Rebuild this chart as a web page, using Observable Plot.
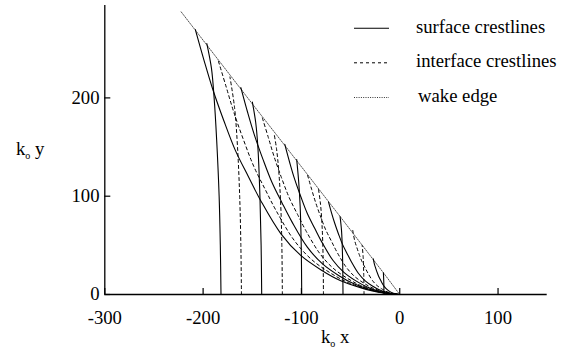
<!DOCTYPE html>
<html><head><meta charset="utf-8">
<script src="https://cdn.jsdelivr.net/npm/d3@7"></script>
<script src="https://cdn.jsdelivr.net/npm/@observablehq/plot@0.6"></script>
<style>
html,body{margin:0;padding:0;background:#fff;}
#chart{position:relative;width:565px;height:349px;}
</style></head><body><div id="chart"></div>
<script>
const xTicks = [-300, -200, -100, 0, 100];
const yTicks = [0, 100, 200];
const xDomain = [-300, 150];
const yDomain = [0, 294];
const legendLabels = ["surface crestlines", "interface crestlines", "wake edge"];
const xLabel = ["k", "o", " x"];
const yLabel = ["k", "o", " y"];

// surface crestlines: transverse part (axis -> edge) and divergent part (edge -> origin)
const surfaceTransverse = [
  [[-181.8,0],[-182.5,50],[-183.7,100],[-186.2,157],[-188.8,200],[-191.5,230],[-196.2,255.3]],
  [[-140.4,0],[-141,50],[-142.2,100],[-144.3,150],[-146.5,175],[-149.9,195.8]],
  [[-99.7,0],[-100.2,50],[-101.3,90],[-102.8,115],[-104.8,137.2]],
  [[-57.7,0],[-58.2,40],[-59.2,65],[-60.7,79.4]],
  [[-16,0],[-16.2,12],[-16.6,22]]
];
const surfaceDivergent = [
  [[-207.9,269.5],[-199,238],[-190.2,208.8],[-179,177],[-167.2,146.6],[-154,120],[-141.5,95.7],[-121,62],[-101,40],[-80,25],[-60,14],[-40,7],[-20,2],[0,0]],
  [[-161.6,210.5],[-154.6,184.9],[-147.8,162.2],[-139.1,137.5],[-129.9,113.9],[-119.7,93.2],[-109.9,74.4],[-94,48.2],[-78.5,31.1],[-62.2,19.4],[-46.6,10.9],[-31.1,5.4],[-15.5,1.6],[0,0]],
  [[-116.9,152.7],[-111.8,133.8],[-106.9,117.3],[-100.6,99.5],[-94,82.4],[-86.5,67.4],[-79.5,53.8],[-68,34.8],[-56.8,22.5],[-45,14.1],[-33.7,7.9],[-22.5,3.9],[-11.2,1.1],[0,0]],
  [[-72.4,94],[-69.3,82.8],[-66.2,72.7],[-62.3,61.6],[-58.2,51],[-53.6,41.8],[-49.2,33.3],[-42.1,21.6],[-35.1,13.9],[-27.8,8.7],[-20.9,4.9],[-13.9,2.4],[-7,0.7],[0,0]],
  [[-26.9,36.3],[-25.7,30.7],[-24.5,26.9],[-23.1,22.8],[-21.6,18.9],[-19.9,15.5],[-18.3,12.3],[-15.6,8],[-13,5.2],[-10.3,3.2],[-7.7,1.8],[-5.2,0.9],[-2.6,0.3],[0,0]]
];
// interface crestlines
const interfaceTransverse = [
  [[-161,0],[-161.6,50],[-162.8,100],[-165,150],[-168,190],[-172.7,221.3]],
  [[-119.4,0],[-119.9,50],[-121,90],[-123,125],[-125.3,148],[-127.9,164.3]],
  [[-77.6,0],[-78,40],[-79,70],[-80.6,92],[-82.7,107.6]],
  [[-36.3,0],[-36.6,20],[-37.2,38],[-38.2,50]]
];
const interfaceDivergent = [
  [[-184.4,237.3],[-176.5,211.1],[-168.7,185.2],[-158.8,157],[-148.3,130],[-136.6,106.4],[-125.5,84.9],[-107.3,55],[-89.6,35.5],[-71,22.2],[-53.2,12.4],[-35.5,6.2],[-17.7,1.8],[0,0]],
  [[-139.7,179.5],[-133.7,159.9],[-127.8,140.3],[-120.3,118.9],[-112.4,98.5],[-103.5,80.6],[-95.1,64.3],[-81.3,41.7],[-67.9,26.9],[-53.8,16.8],[-40.3,9.4],[-26.9,4.7],[-13.4,1.3],[0,0]],
  [[-93.7,121.2],[-89.7,107.3],[-85.7,94.1],[-80.7,79.8],[-75.4,66.1],[-69.4,54.1],[-63.8,43.1],[-54.5,27.9],[-45.5,18],[-36.1,11.3],[-27,6.3],[-18,3.2],[-9,0.9],[0,0]],
  [[-47.8,65.2],[-45.8,54.7],[-43.7,48],[-41.2,40.7],[-38.5,33.7],[-35.4,27.6],[-32.5,22],[-27.8,14.3],[-23.2,9.2],[-18.4,5.8],[-13.8,3.2],[-9.2,1.6],[-4.6,0.5],[0,0]]
];
// wake edge
const wakeEdge = [[-222.3,287.5],[-150,194],[-100,130],[-60,78.5],[-30,39.5],[-15,20],[0,0]];

function buildRows(trans, div, prefix) {
  const rows = [];
  trans.forEach((t, i) => t.forEach(([x, y]) => rows.push({x, y, z: `${prefix}${i}t`})));
  div.forEach((d, i) => d.forEach(([x, y]) => rows.push({x, y, z: `${prefix}${i}d`})));
  return rows;
}
const surfaceRows = buildRows(surfaceTransverse, surfaceDivergent, "s");
const interfaceRows = buildRows(interfaceTransverse, interfaceDivergent, "i");
const edgeRows = wakeEdge.map(([x, y]) => ({x, y}));

const FONT = "'Liberation Serif','Times New Roman',Times,serif";
const plot = Plot.plot({
  width: 565, height: 349,
  marginLeft: 104.3, marginRight: 18.3, marginTop: 5, marginBottom: 55,
  style: {fontFamily: FONT, fontSize: "18.7px", background: "#fff", color: "#000", overflow: "visible"},
  x: {domain: xDomain},
  y: {domain: yDomain},
  marks: [
    Plot.line(edgeRows, {x: "x", y: "y", stroke: "#222", strokeWidth: 0.8, strokeDasharray: "1,1.3"}),
    Plot.line(interfaceRows, {x: "x", y: "y", z: "z", stroke: "#000", strokeWidth: 1, strokeDasharray: "3,3", curve: "catmull-rom"}),
    Plot.line(surfaceRows, {x: "x", y: "y", z: "z", stroke: "#000", strokeWidth: 1.1, curve: "catmull-rom"}),
    Plot.ruleY([yDomain[0]], {stroke: "#000", strokeWidth: 1.3}),
    Plot.ruleX([xDomain[0]], {stroke: "#000", strokeWidth: 1.3}),
    Plot.axisX(xTicks, {tickSize: -6, tickPadding: 22, label: null, tickFormat: d => String(d), strokeWidth: 1.2}),
    Plot.axisY(yTicks, {tickSize: -6, tickPadding: 11.3, label: null, tickFormat: d => String(d), strokeWidth: 1.2})
  ]
});
document.getElementById("chart").appendChild(plot);

const svg = d3.select(plot);
function addLabel(parts, x, y) {
  const t = svg.append("text").attr("x", x).attr("y", y).attr("text-anchor", "start")
    .attr("font-family", FONT).attr("font-size", 18.7).attr("fill", "#000");
  t.append("tspan").text(parts[0]);
  t.append("tspan").attr("font-size", 10).attr("dy", 4).text(parts[1]);
  t.append("tspan").attr("dy", -4).text(parts[2]);
}
addLabel(xLabel, 321, 342.7);
addLabel(yLabel, 16, 155);

const legendStyles = [
  {dash: null, w: 1.1},
  {dash: "3,3", w: 1},
  {dash: "1,1.3", w: 0.8}
];
const legendY = [28.3, 62.8, 97.5];
const leg = svg.append("g");
legendLabels.forEach((label, i) => {
  const ln = leg.append("line").attr("x1", 354).attr("x2", 389).attr("y1", legendY[i]).attr("y2", legendY[i])
    .attr("stroke", "#000").attr("stroke-width", legendStyles[i].w);
  if (legendStyles[i].dash) ln.attr("stroke-dasharray", legendStyles[i].dash);
  leg.append("text").attr("x", i === 2 ? 418 : 416).attr("y", legendY[i] + 4.6).attr("text-anchor", "start")
    .attr("font-family", FONT).attr("font-size", 18.7).attr("fill", "#000").text(label);
});
</script></body></html>
